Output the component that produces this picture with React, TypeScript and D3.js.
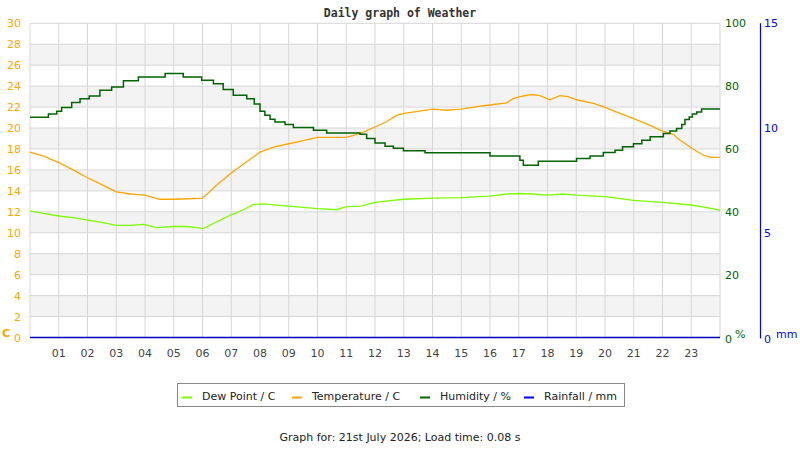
import React from "react";
import * as d3 from "d3";

// hours after midnight
const tempHours = [0, 0.5, 1, 1.5, 2, 2.5, 3, 3.5, 4, 4.5, 5, 5.5, 6, 6.5, 7, 7.5, 8, 8.5, 9, 9.5, 10, 11, 11.5, 12, 12.4, 12.75, 13, 13.5, 14, 14.5, 15, 15.65, 16, 16.58, 16.8, 17.04, 17.45, 17.74, 18.09, 18.43, 18.72, 19.01, 19.6, 20, 20.52, 21, 21.45, 22, 22.38, 22.6, 23.04, 23.42, 23.7, 24];
const tempValues = [17.7, 17.3, 16.7, 16.0, 15.25, 14.6, 13.9, 13.7, 13.6, 13.2, 13.2, 13.25, 13.3, 14.55, 15.7, 16.7, 17.7, 18.2, 18.5, 18.8, 19.1, 19.1, 19.5, 20.1, 20.6, 21.2, 21.4, 21.6, 21.8, 21.7, 21.8, 22.1, 22.2, 22.4, 22.8, 23.0, 23.2, 23.1, 22.7, 23.1, 23.0, 22.7, 22.35, 21.97, 21.4, 20.9, 20.4, 19.7, 19.4, 18.85, 18.05, 17.4, 17.2, 17.2];

const dewHours = [0, 0.46, 1, 1.5, 2, 2.5, 3, 3.5, 3.94, 4.41, 5, 5.45, 5.8, 6.03, 6.5, 7, 7.42, 7.77, 8.1, 9, 10, 10.67, 11, 11.5, 12, 13, 14, 15, 16, 16.58, 17.04, 17.5, 18, 18.55, 19, 20, 21, 22, 23, 23.54, 24];
const dewValues = [12.1, 11.85, 11.6, 11.45, 11.2, 11.0, 10.7, 10.7, 10.8, 10.5, 10.6, 10.6, 10.5, 10.4, 11.05, 11.7, 12.2, 12.7, 12.75, 12.55, 12.3, 12.2, 12.5, 12.55, 12.9, 13.2, 13.3, 13.35, 13.5, 13.7, 13.75, 13.7, 13.6, 13.7, 13.6, 13.45, 13.1, 12.9, 12.65, 12.4, 12.15];

const humHours = [0, 0.64, 0.93, 1.1, 1.45, 1.74, 2.06, 2.43, 2.84, 3.25, 3.77, 4.7, 5.33, 5.97, 6.38, 6.72, 7.07, 7.54, 7.8, 8.0, 8.17, 8.35, 8.52, 8.87, 9.16, 9.86, 10.32, 11.48, 11.71, 12.0, 12.35, 12.64, 12.99, 13.74, 16.0, 17.04, 17.16, 17.68, 19.01, 19.48, 19.94, 20.35, 20.61, 20.99, 21.28, 21.57, 22.03, 22.26, 22.49, 22.67, 22.78, 22.93, 23.04, 23.19, 23.36, 24];
const humValues = [70.1, 71.1, 72.0, 73.2, 74.8, 76.0, 76.9, 78.7, 79.7, 81.7, 82.9, 84.0, 82.9, 81.9, 80.8, 78.9, 77.1, 76.0, 74.3, 72.0, 70.7, 69.5, 68.6, 67.8, 66.8, 66.0, 65.1, 64.7, 63.3, 61.9, 60.9, 60.2, 59.4, 58.8, 57.8, 56.4, 54.8, 56.1, 57.0, 57.8, 58.9, 59.6, 60.7, 61.7, 62.8, 63.9, 64.9, 65.7, 66.5, 67.8, 69.4, 70.2, 71.1, 71.8, 72.7, 72.7];

const rainHours = [0, 24];
const rainValues = [0, 0];

const hourLabels = ["01", "02", "03", "04", "05", "06", "07", "08", "09", "10", "11", "12", "13", "14", "15", "16", "17", "18", "19", "20", "21", "22", "23"];
const tempTicks = d3.range(0, 31, 2);
const humTicks = [0, 20, 40, 60, 80, 100];
const rainTicks = [0, 5, 10, 15];

const legendItems = [
  {label: "Dew Point / C", color: "#7cfc00"},
  {label: "Temperature / C", color: "#ffa500"},
  {label: "Humidity / %", color: "#006400"},
  {label: "Rainfall / mm", color: "#0000ff"},
];
const legendX = [182, 292, 420, 524];

const W = 800, H = 450;
const left = 30, right = 720, top = 23.3, bottom = 337.5;
const font = "DejaVu Sans, sans-serif";

export default function App() {
  const x = d3.scaleLinear().domain([0, 24]).range([left, right]);
  const yT = d3.scaleLinear().domain([0, 30]).range([bottom, top]);
  const yH = d3.scaleLinear().domain([0, 100]).range([bottom, top]);
  const yR = d3.scaleLinear().domain([0, 15]).range([bottom, top]);

  const line = (xs: number[], ys: number[], y: d3.ScaleLinear<number, number>, curve: d3.CurveFactory) =>
    d3.line<number>().x((_, i) => x(xs[i])).y(d => y(d)).curve(curve)(ys) || "";

  const stripes = tempTicks.filter(t => t % 4 === 2 && t < 30);

  return (
    <svg width={W} height={H} style={{position: "absolute", left: 0, top: 0, background: "#fff"}} fontFamily={font}>
      <text x={400} y={17} textAnchor="middle" fontFamily="DejaVu Sans Mono, monospace" fontWeight="bold" fontSize={11.5} fill="#333">
        Daily graph of Weather
      </text>

      {stripes.map(t => (
        <rect key={t} x={left} y={yT(t + 2)} width={right - left} height={yT(t) - yT(t + 2)} fill="#f3f3f3" />
      ))}
      {tempTicks.map(t => (
        <line key={"h" + t} x1={left} x2={right} y1={yT(t)} y2={yT(t)} stroke="#d6d6d6" strokeWidth={1} />
      ))}
      {d3.range(0, 25).map(h => (
        <line key={"v" + h} x1={x(h)} x2={x(h)} y1={top} y2={bottom} stroke="#d6d6d6" strokeWidth={1} />
      ))}

      {hourLabels.map((l, i) => (
        <text key={l} x={x(i + 1)} y={357} textAnchor="middle" fontSize={11} fill="#444">{l}</text>
      ))}

      {tempTicks.map(t => (
        <text key={"tl" + t} x={21} y={yT(t) + 4} textAnchor="end" fontSize={11} fill="#ffa500">{t}</text>
      ))}
      <text x={2} y={337} fontSize={11} fontWeight="bold" fill="#ffa500">C</text>

      {humTicks.map(t => (
        <text key={"hl" + t} x={725} y={yH(t) + 4 + (t === 0 ? 1.5 : 0)} fontSize={11} fill="#006400">{t}</text>
      ))}
      <text x={735} y={338} fontSize={11} fill="#006400">%</text>

      <line x1={760.5} x2={760.5} y1={top} y2={bottom + 1} stroke="#0000ff" strokeWidth={1.2} />
      {rainTicks.map(t => (
        <text key={"rl" + t} x={764} y={yR(t) + 4 + (t === 0 ? 1.5 : 0)} fontSize={11} fill="#0000ff">{t}</text>
      ))}
      <text x={776} y={338} fontSize={11} fill="#0000ff">mm</text>

      <path d={line(dewHours, dewValues, yT, d3.curveLinear)} fill="none" stroke="#7cfc00" strokeWidth={1.3} />
      <path d={line(tempHours, tempValues, yT, d3.curveLinear)} fill="none" stroke="#ffa500" strokeWidth={1.3} />
      <path d={line(humHours, humValues, yH, d3.curveStepAfter)} fill="none" stroke="#006400" strokeWidth={1.5} />
      <path d={line(rainHours, rainValues, yR, d3.curveLinear)} fill="none" stroke="#0000bb" strokeWidth={1.5} />

      <rect x={177.5} y={383.5} width={447} height={23} fill="#fff" stroke="#888" strokeWidth={1} />
      {legendItems.map((it, i) => (
        <g key={it.label}>
          <line x1={legendX[i]} x2={legendX[i] + 10} y1={397.5} y2={397.5} stroke={it.color} strokeWidth={2} />
          <text x={legendX[i] + 20} y={400} fontSize={11} fill="#222">{it.label}</text>
        </g>
      ))}

      <text x={400} y={441} textAnchor="middle" fontSize={11} fill="#222">
        Graph for: 21st July 2026; Load time: 0.08 s
      </text>
    </svg>
  );
}
